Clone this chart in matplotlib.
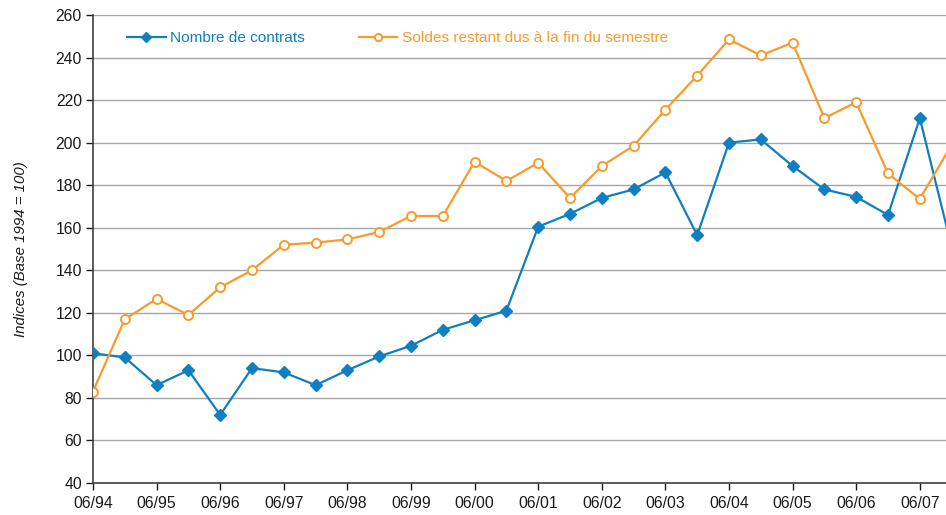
import matplotlib
matplotlib.use("Agg")
import matplotlib.pyplot as plt
import numpy as np

plt.rcParams['font.family'] = ['Liberation Sans', 'DejaVu Sans']

periods = ["06/94", "12/94", "06/95", "12/95", "06/96", "12/96", "06/97", "12/97",
           "06/98", "12/98", "06/99", "12/99", "06/00", "12/00", "06/01", "12/01",
           "06/02", "12/02", "06/03", "12/03", "06/04", "12/04", "06/05", "12/05",
           "06/06", "12/06", "06/07", "12/07"]

contrats = [101, 99, 86, 93, 72, 94, 92, 86, 93, 99.5, 104.5, 112, 116.5, 121,
            160.5, 166.5, 174, 178, 186, 156.5, 200, 201.5, 189, 178, 174.5, 166,
            211.5, 151]

soldes = [83, 117, 126.5, 119, 132, 140, 152, 153, 154.5, 158, 165.5, 165.5,
          191, 182, 190.5, 174, 189, 198.5, 215.5, 231.5, 248.5, 241, 247, 211.5,
          219, 185.5, 173.5, 199]

tick_labels = ["06/94", "06/95", "06/96", "06/97", "06/98", "06/99", "06/00",
               "06/01", "06/02", "06/03", "06/04", "06/05", "06/06", "06/07"]

label_contrats = "Nombre de contrats"
label_soldes = "Soldes restant dus à la fin du semestre"

blue = "#0f7fc0"
orange = "#f89b2c"

fig = plt.figure(figsize=(9.46, 5.15), dpi=100)
ax = fig.add_axes([93 / 946, 1 - 483 / 515, 1 - 93 / 946, (483 - 15) / 515])

x = np.arange(len(periods))
ax.plot(x, contrats, color=blue, lw=1.6, marker='D', ms=6.3, mfc=blue, mec=blue,
        label=label_contrats, zorder=3)
ax.plot(x, soldes, color=orange, lw=1.6, marker='o', ms=6.5, mfc='white', mec=orange,
        mew=1.4, label=label_soldes, zorder=3)

px_per_half = 31.8
ax.set_xlim(0, (946 - 93) / px_per_half)
ax.set_ylim(40, 260)
ax.set_yticks(np.arange(40, 261, 20))
ax.set_xticks([periods.index(t) for t in tick_labels])
ax.set_xticklabels(tick_labels)

ax.yaxis.grid(True, color='#a6a6a6', lw=1)
ax.set_axisbelow(True)
for s in ['top', 'right']:
    ax.spines[s].set_visible(False)
for s in ['left', 'bottom']:
    ax.spines[s].set_color('#404040')
    ax.spines[s].set_linewidth(1.2)

ax.tick_params(axis='both', labelsize=11.3, colors='#1a1a1a', length=5, width=1,
               direction='out')
ax.tick_params(axis='x', pad=4)
ax.tick_params(axis='y', pad=3)

ax.set_ylabel("Indices (Base 1994 = 100)", fontstyle='italic', fontsize=10.8,
              color='#1a1a1a', labelpad=20)

leg = ax.legend(loc='center left', bbox_to_anchor=(127 / 946, 1 - 38 / 515),
                bbox_transform=fig.transFigure, ncol=2, frameon=False,
                fontsize=11.1, handlelength=2.5, handletextpad=0.3,
                columnspacing=3.5, borderpad=0, borderaxespad=0,
                markerscale=0.8, labelcolor='linecolor')

fig.savefig("out.png", dpi=100)
